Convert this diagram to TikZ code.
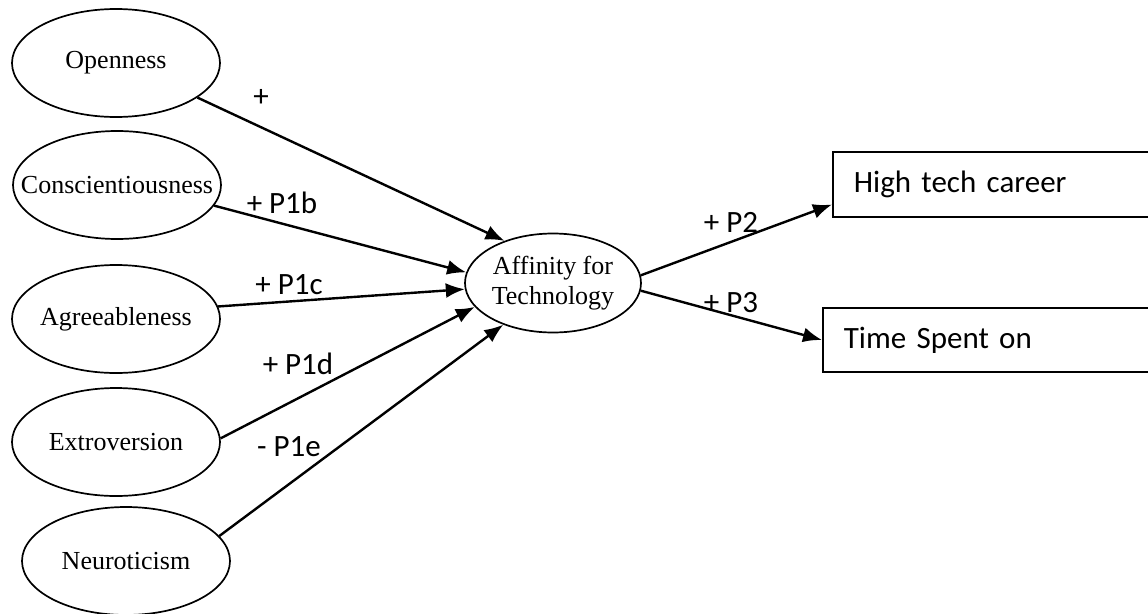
\documentclass[tikz,border=0pt]{standalone}
\usepackage{fontspec}
\setmainfont{Liberation Serif}
\newfontfamily\calibri{Carlito}
\usetikzlibrary{arrows.meta,shapes.geometric}

\begin{document}
\begin{tikzpicture}[x=1pt,y=-1pt,
  trait/.style={ellipse,draw,line width=1.7pt,inner xsep=-30pt,inner ysep=0pt,minimum width=208pt,minimum height=108pt,font=\fontsize{26}{30}\selectfont},
  outbox/.style={draw,line width=1.7pt,anchor=west,minimum height=65pt,text width=298pt,inner xsep=21pt,align=left,font=\calibri\fontsize{31}{36}\selectfont},
  path/.style={line width=2.4pt,-{Latex[length=19pt,width=15pt]}},
  sign/.style={font=\calibri\fontsize{31}{36}\selectfont,inner sep=0pt}]
\useasboundingbox (0,0) rectangle (1148,613);

% the five traits
\node[trait] (open) at (116,63) {Openness};
\node[trait] (consc) at (117,185) {Conscientiousness};
\node[trait] (agree) at (116,319) {Agreeableness};
\node[trait] (extro) at (116,442) {Extroversion};
\node[trait] (neuro) at (126,561) {Neuroticism};

\node[trait,minimum width=176pt,minimum height=99pt,align=center] (aff) at (553,283) {Affinity for\\Technology};

\node[outbox] (hitech) at (832,184.5) {High tech career};
\node[outbox,minimum height=64pt] (time) at (822,340) {Time Spent on};

\draw[path] (open.-23) -- (aff.139);
\draw[path] (consc.-12) -- (aff.173);
\draw[path] (agree.7) -- (aff.184);
\draw[path] (extro.2) -- (aff.197);
\draw[path] (neuro.15) -- (aff.220);
\draw[path] (aff.5) -- ([yshift=-20pt]hitech.west);
\draw[path] (aff.-5) -- (time.west);

% labels
\node[sign] (s1) at (261,98) {+};
\node[sign] (s2) at (282,203) {+ P1b};
\node[sign] (s3) at (289,285) {+ P1c};
\node[sign] (s4) at (298,364) {+ P1d};
\node[sign] (s5) at (289,447) {- P1e};
\node[sign] (s6) at (731,222) {+ P2};
\node[sign] (s7) at (731,303) {+ P3};
\end{tikzpicture}
\end{document}
